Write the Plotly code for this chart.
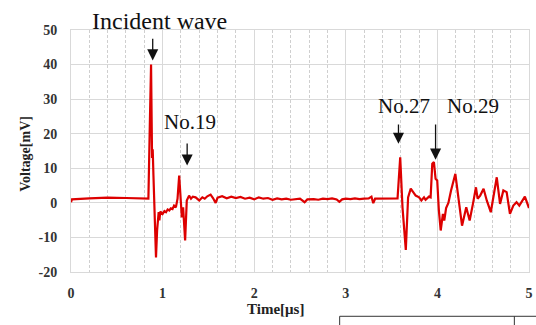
import plotly.graph_objects as go

# Time [μs]
time_us = [0.0, 0.01, 0.2, 0.4, 0.6, 0.8, 0.845, 0.86, 0.874, 0.88, 0.885, 0.892, 0.9, 0.912,
           0.928, 0.94, 0.957, 0.965, 0.975, 1.0, 1.02, 1.037, 1.055, 1.073, 1.09, 1.108, 1.125,
           1.145, 1.163, 1.181, 1.199, 1.21, 1.224, 1.246, 1.264, 1.289, 1.31, 1.33, 1.36, 1.40,
           1.434, 1.46, 1.488, 1.524, 1.55, 1.579, 1.60, 1.65, 1.70, 1.75, 1.80, 1.85, 1.90, 1.95,
           2.00, 2.05, 2.10, 2.15, 2.20, 2.25, 2.30, 2.35, 2.40, 2.45, 2.50, 2.55, 2.58, 2.65,
           2.70, 2.75, 2.80, 2.85, 2.90, 2.93, 2.96, 3.00, 3.05, 3.10, 3.15, 3.20, 3.25, 3.28,
           3.30, 3.32, 3.40, 3.50, 3.565, 3.594, 3.619, 3.655, 3.68, 3.709, 3.738, 3.763, 3.80,
           3.825, 3.854, 3.871, 3.908, 3.926, 3.944, 3.962, 3.98, 3.998, 4.016, 4.036, 4.06,
           4.075, 4.095, 4.12, 4.149, 4.196, 4.233, 4.269, 4.315, 4.352, 4.388, 4.421, 4.439,
           4.467, 4.504, 4.539, 4.583, 4.648, 4.684, 4.720, 4.756, 4.792, 4.829, 4.864, 4.894,
           4.955, 5.0]
# Voltage [mV]
voltage_mv = [0.2, 1.0, 1.3, 1.5, 1.4, 1.2, 1.2, 22.0, 40.0, 25.0, 13.0, 15.5, 8.0, -6.0,
              -15.8, -8.0, -2.7, -5.1, -2.5, -3.2, -2.4, -2.7, -1.9, -2.2, -1.6, -1.8, -0.8,
              -1.3, 1.2, 7.9, 1.6, -4.2, -1.3, -10.9, 0.7, 2.1, 1.2, 1.8, 1.6, 0.7,
              1.6, 1.2, 1.9, 2.4, 1.4, 0.0, 1.5, 1.9, 1.3, 1.8, 1.4, 1.7, 1.2, 1.5,
              1.0, 1.6, 1.2, 1.4, 0.9, 1.3, 1.0, 1.2, 0.9, 1.1, 1.2, 0.2, 1.0, 1.1,
              0.9, 1.2, 1.1, 1.3, 1.0, 0.3, 1.0, 1.2, 1.1, 1.3, 1.1, 1.2, 1.3, 1.8,
              -0.1, 1.2, 1.3, 1.3, 1.3, 13.2, -1.3, -13.6, 1.6, 4.1, 3.1, 2.1, 1.6,
              0.7, 1.6, 0.9, 1.8, 1.6, 11.3, 11.8, 7.0, 6.5, -2.2, -8.0, -3.2,
              -5.1, -1.5, 0.0, 3.6, 8.4, 0.7, -6.6, -1.3, -5.1, -0.3, 4.5, 1.2,
              2.1, 4.1, 0.7, -2.7, 7.4, -0.3, 3.6, 3.1, -3.2, -0.8, 0.2, -0.8,
              1.8, -1.5]

x_ticks = [0, 1, 2, 3, 4, 5]
y_ticks = [-20, -10, 0, 10, 20, 30, 40, 50]

# Labels: text and its centre (t in data units, height in paper units)
label_texts = ["Incident wave", "No.19", "No.27", "No.29"]
label_x = [0.964, 1.295, 3.63, 4.388]
label_y = [1.036, 0.619, 0.686, 0.686]
label_sizes = [24, 21, 21, 21]
# Arrows: time, tail voltage, tip voltage
arrow_x = [0.892, 1.268, 3.575, 3.98]
arrow_tail = [47.9, 17.6, 23.1, 23.1]
arrow_tip = [41.2, 10.8, 17.1, 12.5]

serif = "'Liberation Serif', 'Times New Roman', serif"
grid_c = "#d9d9d9"

fig = go.Figure()
fig.add_trace(go.Scatter(x=time_us, y=voltage_mv, mode="lines",
                         line=dict(color="#DD0000", width=2.2), showlegend=False,
                         hoverinfo="skip"))

annotations = []
for txt, tx, ty, fs in zip(label_texts, label_x, label_y, label_sizes):
    annotations.append(dict(x=tx, y=ty, xref="x", yref="paper", text=txt, showarrow=False,
                            font=dict(family=serif, size=fs, color="#111111"),
                            xanchor="center", yanchor="middle"))
for ax_, tail, tip in zip(arrow_x, arrow_tail, arrow_tip):
    annotations.append(dict(x=ax_, y=tip, ax=ax_, ay=tail, xref="x", yref="y",
                            axref="x", ayref="y", text="", showarrow=True,
                            arrowhead=2, arrowsize=1.7, arrowwidth=1.3,
                            arrowcolor="#111111", standoff=0))
annotations.append(dict(x=-0.0997, y=0.49, xref="paper", yref="paper",
                        text="<b>Voltage[mV]</b>", textangle=-90, showarrow=False,
                        font=dict(family=serif, size=14, color="#222222"),
                        xanchor="center", yanchor="middle"))
annotations.append(dict(x=0.446, y=-0.154, xref="paper", yref="paper",
                        text="<b>Time[μs]</b>", showarrow=False,
                        font=dict(family=serif, size=15, color="#222222"),
                        xanchor="center", yanchor="middle"))

shapes = [
    dict(type="line", xref="paper", yref="paper", x0=0.5866, x1=1.02, y0=-0.183, y1=-0.183,
         line=dict(color="#333333", width=1)),
    dict(type="line", xref="paper", yref="paper", x0=0.5866, x1=0.5866, y0=-0.183, y1=-0.35,
         line=dict(color="#333333", width=1)),
    dict(type="line", xref="paper", yref="paper", x0=0.968, x1=0.968, y0=-0.183, y1=-0.35,
         line=dict(color="#333333", width=1)),
]

fig.update_layout(
    width=536, height=325,
    margin=dict(l=71, r=3, t=30, b=53),
    paper_bgcolor="white", plot_bgcolor="white",
    annotations=annotations, shapes=shapes,
    xaxis=dict(range=[0, 5], tickvals=x_ticks, ticktext=[str(v) for v in x_ticks],
               showgrid=True, gridcolor=grid_c, gridwidth=1, zeroline=False,
               showline=True, linecolor=grid_c, mirror=True,
               ticklabelstandoff=8, ticklabeloverflow="allow",
               tickfont=dict(family=serif, size=14, color="#333333", weight="bold"),
               minor=dict(dtick=0.2, showgrid=True, gridcolor="#cfcfcf",
                          griddash="3px,2px", gridwidth=1)),
    yaxis=dict(range=[-20, 50], tickvals=y_ticks, ticktext=[str(v) for v in y_ticks],
               showgrid=True, gridcolor=grid_c, gridwidth=1, zeroline=False,
               showline=True, linecolor=grid_c, mirror=True,
               ticklabelstandoff=10,
               tickfont=dict(family=serif, size=14, color="#333333", weight="bold")),
)

fig.write_html("out.html")
